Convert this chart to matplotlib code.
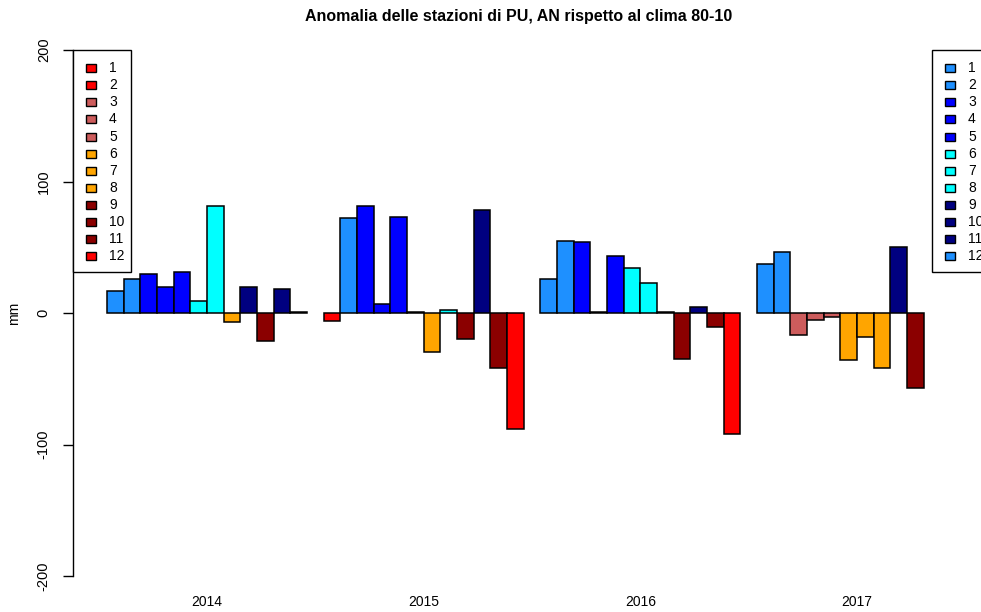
import numpy as np
import matplotlib
matplotlib.use("Agg")
import matplotlib.pyplot as plt
from matplotlib.patches import Rectangle

years = ["2014", "2015", "2016", "2017"]
months = [str(m) for m in range(1, 13)]
anom_2014 = [17, 26, 30, 19.5, 31, 9, 81, -7, 19.5, -21, 18, 0.5]
anom_2015 = [-6, 72, 81, 7, 73, 0.5, -30, 2, -20, 78, -42, -88]
anom_2016 = [26, 55, 54, 0.5, 43, 34, 23, 0.5, -35, 4.5, -11, -92]
anom_2017 = [37.5, 46.5, -16.5, -5.5, -3, -35.5, -18, -42, 50, -57, np.nan, np.nan]
pos_colors = ["#1E90FF", "#1E90FF", "#0000FF", "#0000FF", "#0000FF", "#00FFFF",
              "#00FFFF", "#00FFFF", "#000080", "#000080", "#000080", "#1E90FF"]
neg_colors = ["#FF0000", "#FF0000", "#CD5C5C", "#CD5C5C", "#CD5C5C", "#FFA500",
              "#FFA500", "#FFA500", "#8B0000", "#8B0000", "#8B0000", "#FF0000"]
yticks = [-200, -100, 0, 100, 200]
title = "Anomalia delle stazioni di PU, AN rispetto al clima 80-10"

FONT = ["Liberation Sans", "DejaVu Sans"]
plt.rcParams["font.family"] = FONT

W, H = 981, 612
fig = plt.figure(figsize=(W / 100, H / 100), dpi=100)

def fx(x):
    return x / W

def fy(y):
    return 1 - y / H

# plot region in pixels (right edge extends past the image, as in the reference)
L, R, T, B = 73, 991, 50, 576
ax = fig.add_axes([fx(L), fy(B), (R - L) / W, (B - T) / H])
ax.patch.set_alpha(0)

data = [anom_2014, anom_2015, anom_2016, anom_2017]
for g, vals in enumerate(data):
    lefts = [1 + g * 13 + m for m in range(12)]
    cols = [pos_colors[m] if (not np.isnan(v) and v >= 0) else neg_colors[m]
            for m, v in enumerate(vals)]
    vv = [0 if np.isnan(v) else v for v in vals]
    mask = [not np.isnan(v) for v in vals]
    ax.bar([l for l, k in zip(lefts, mask) if k], [v for v, k in zip(vv, mask) if k],
           width=1, align="edge",
           color=[c for c, k in zip(cols, mask) if k],
           edgecolor="black", linewidth=1.1)

ax.set_xlim(-1.04, 54.04)
ax.set_ylim(-200, 200)
for s in ["top", "right", "bottom"]:
    ax.spines[s].set_visible(False)
ax.spines["left"].set_linewidth(1.0)
ax.set_yticks(yticks)
ax.set_yticklabels([str(t) for t in yticks], rotation=90, va="center", fontsize=10.5)
ax.tick_params(axis="y", length=7, width=1.0, pad=9)
ax.set_xticks([1 + g * 13 + 6 for g in range(4)])
ax.set_xticklabels(years, fontsize=10,
                   family=["Liberation Sans Narrow", "Liberation Sans", "DejaVu Sans"])
ax.tick_params(axis="x", length=0, pad=14)
ax.set_ylabel("mm", fontsize=10, labelpad=11)

fig.text(fx(519), fy(17), title, ha="center", va="center", fontsize=11.5, fontweight="bold")

# legends (drawn in pixel layout)
def draw_legend(x0, x1, colors):
    fig.patches.append(Rectangle((fx(x0), fy(272)), (x1 - x0) / W, (272 - 50) / H,
                                 transform=fig.transFigure, facecolor="white",
                                 edgecolor="black", linewidth=1.0, zorder=5))
    for i, (lab, c) in enumerate(zip(months, colors)):
        yc = 68.3 + i * 17.06
        fig.patches.append(Rectangle((fx(x0 + 13), fy(yc + 4)), 10 / W, 8 / H,
                                     transform=fig.transFigure, facecolor=c,
                                     edgecolor="black", linewidth=1.0, zorder=6))
        fig.text(fx(x0 + 36), fy(yc), lab, ha="left", va="center", fontsize=10, zorder=7)

draw_legend(73, 131, neg_colors)
draw_legend(932, 990, pos_colors)

fig.savefig("out.png", dpi=100)
